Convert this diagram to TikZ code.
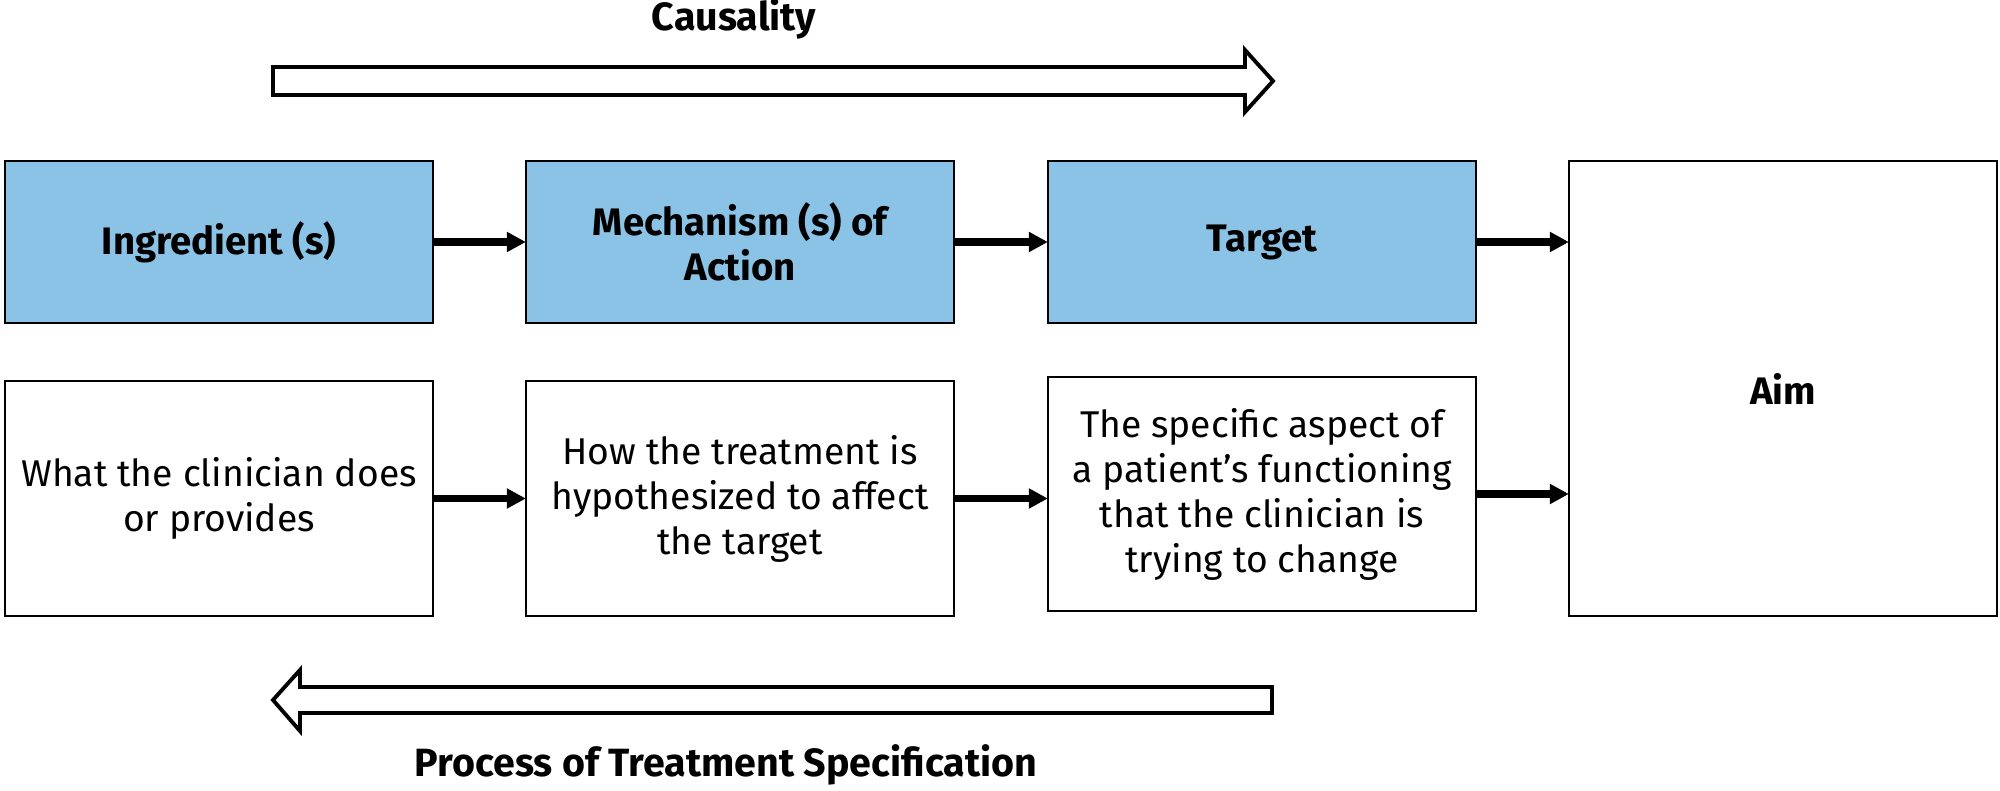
\documentclass[tikz,border=0pt]{standalone}
\usepackage{fontspec}
\setmainfont{Fira Sans}
\usetikzlibrary{arrows.meta}
\definecolor{boxblue}{RGB}{139,195,230}
\begin{document}
\begin{tikzpicture}[x=0.01cm,y=-0.01cm,
  box/.style={draw, line width=0.7pt, minimum width=4.28cm, inner sep=0pt, outer sep=0pt, align=center,
    font=\fontsize{10.6}{12.8}\selectfont},
  headbox/.style={box, fill=boxblue, minimum height=1.62cm, font=\bfseries\fontsize{10.9}{12.8}\selectfont},
  plainbox/.style={box, minimum height=2.35cm},
  conn/.style={line width=2pt, -{Triangle[length=0.19cm,width=0.19cm]}},
  bigarrow/.style={draw, line width=1.1pt, fill=white, miter limit=10},
  caption/.style={font=\bfseries\fontsize{11.2}{13}\selectfont, inner sep=0pt}]
\useasboundingbox (0,0) rectangle (2000,791);

% top row
\node[headbox] (ing) at (219,242) {Ingredient (s)};
\node[headbox] (mech) at (740,242) {Mechanism (s) of\\Action};
\node[headbox] (tgt) at (1262,242) {Target};
\node[box, minimum height=4.55cm, font=\bfseries\fontsize{10.9}{12.8}\selectfont] (aim) at (1783,388.5) {Aim};

% bottom row
\node[plainbox] (ing2) at (219,498.5) {What the clinician does\\or provides};
\node[plainbox] (mech2) at (740,498.5) {How the treatment is\\hypothesized to affect\\the target};
\node[plainbox, minimum height=2.34cm] (tgt2) at (1262,494) {The specific aspect of\\a patient’s functioning\\that the clinician is\\trying to change};

% connectors
\draw[conn] (ing) -- (mech);
\draw[conn] (mech) -- (tgt);
\draw[conn] (tgt.east) -- (tgt.east -| aim.west);
\draw[conn] (ing2) -- (mech2);
\draw[conn] (mech2.east) -- (mech2.east -| tgt2.west);
\draw[conn] (tgt2.east) -- (tgt2.east -| aim.west);

% big arrows
\draw[bigarrow] (273,67) -- (1245,67) -- (1245,50) -- (1273,81) -- (1245,112) -- (1245,95) -- (273,95) -- cycle;
\draw[bigarrow] (1272,687) -- (300,687) -- (300,670) -- (273,700) -- (300,731) -- (300,713) -- (1272,713) -- cycle;

% captions
\node[caption, anchor=base] (caus) at (734,31) {Causality};
\node[caption, anchor=base] (proc) at (726,776) {Process of Treatment Specification};
\end{tikzpicture}
\end{document}
